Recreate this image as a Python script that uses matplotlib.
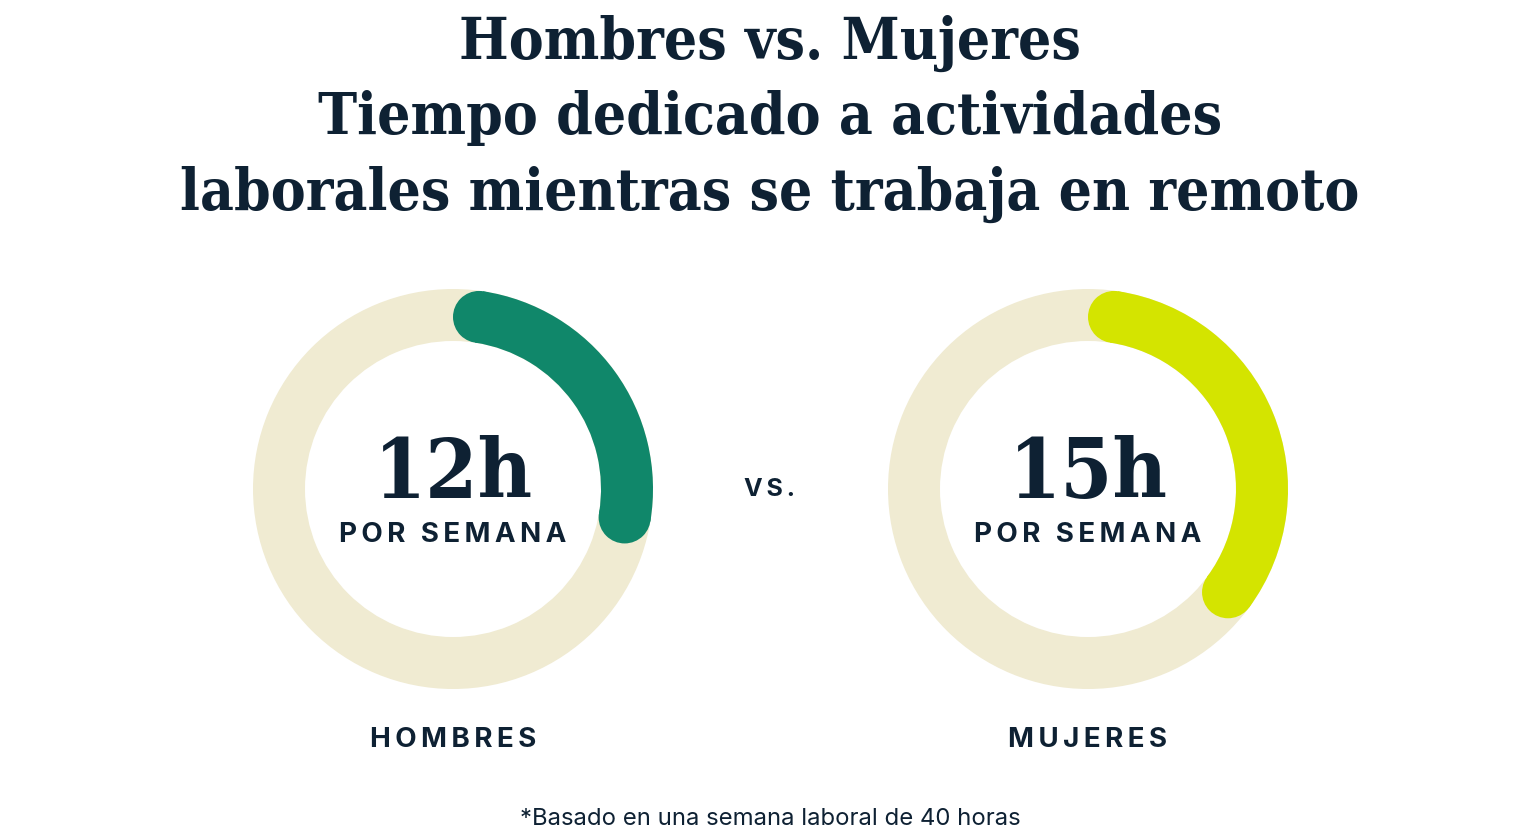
import matplotlib
matplotlib.use('Agg')
import matplotlib.pyplot as plt
from matplotlib.patches import Wedge, Circle
import numpy as np

# data
groups = ['HOMBRES', 'MUJERES']
hours = [12, 15]
week_hours = 40
colors = ['#10876A', '#D4E400']
track_color = '#F0EBD2'
ink = '#0E2133'

title_lines = ['Hombres vs. Mujeres', 'Tiempo dedicado a actividades',
               'laborales mientras se trabaja en remoto']
footnote = '*Basado en una semana laboral de 40 horas'

W, H = 1540, 840
fig = plt.figure(figsize=(W/100, H/100), dpi=100)
ax = fig.add_axes([0, 0, 1, 1])
ax.set_xlim(0, W); ax.set_ylim(H, 0)
ax.set_aspect('equal'); ax.axis('off')

def spaced(s, sp='\u2009'):
    return sp.join(list(s))

serif = 'DejaVu Serif'
sans = ['Inter', 'DejaVu Sans']

for i, t in enumerate(title_lines):
    ax.text(W/2, 59 + i*75.5, t, ha='center', va='baseline', fontsize=42,
            fontfamily=serif, fontweight='bold', fontstretch='condensed', color=ink)

centers = [(453, 489), (1088, 489)]
r_out, wid = 200, 52
r_mid = r_out - wid/2
cap = np.degrees(np.arcsin((wid/2)/r_mid))

for (cx, cy), h, c, g in zip(centers, hours, colors, groups):
    ax.add_patch(Wedge((cx, cy), r_out, 0, 360, width=wid, color=track_color, lw=0))
    sweep = 360 * h / week_hours
    # y axis is inverted, so angles run clockwise on screen
    a0 = -90 + cap
    a1 = -90 + sweep - cap
    ax.add_patch(Wedge((cx, cy), r_out, a0, a1, width=wid, color=c, lw=0))
    for a in (a0, a1):
        ax.add_patch(Circle((cx + r_mid*np.cos(np.radians(a)), cy + r_mid*np.sin(np.radians(a))),
                            wid/2, color=c, lw=0))
    ax.text(cx, 498, f'{h}h', ha='center', va='baseline', fontsize=60,
            fontfamily=serif, fontweight='bold', fontstretch='condensed', color=ink)
    ax.text(cx, 535, spaced('POR SEMANA'), ha='center', va='center', fontsize=20,
            fontfamily=sans, fontweight='bold', color=ink)
    ax.text(cx, 740, spaced(g), ha='center', va='center', fontsize=20,
            fontfamily=sans, fontweight='bold', color=ink)

ax.text(770, 490, spaced('VS.'), ha='center', va='center', fontsize=18,
        fontfamily=sans, fontweight='bold', color=ink)
ax.text(W/2, 819, footnote, ha='center', va='center', fontsize=17.2,
        fontfamily=sans, color=ink)

fig.savefig('out.png', dpi=100)
